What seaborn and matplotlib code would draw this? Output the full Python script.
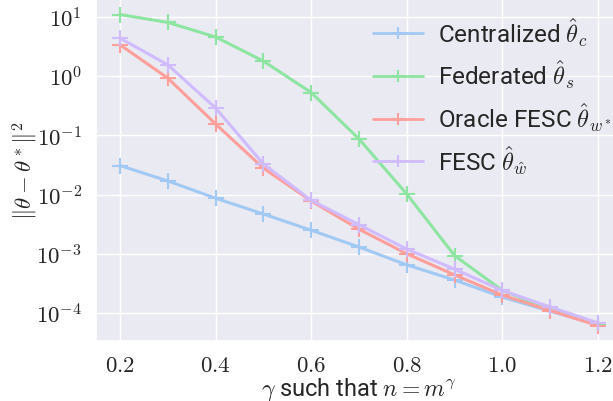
import numpy as np
import pandas as pd
import seaborn as sns
import matplotlib
matplotlib.use("Agg")
import matplotlib.pyplot as plt
from matplotlib.ticker import FuncFormatter, LogLocator, NullLocator

gammas = [0.2, 0.3, 0.4, 0.5, 0.6, 0.7, 0.8, 0.9, 1.0, 1.1, 1.2]
centralized = [0.031, 0.017, 0.0087, 0.0047, 0.0025, 0.0013, 0.00065, 0.00036, 0.000185, 0.000107, 6.3e-5]
federated = [11.0, 8.1, 4.6, 1.8, 0.53, 0.087, 0.0102, 0.00093, 0.00024, 0.000115, 6.5e-5]
oracle = [3.4, 0.93, 0.156, 0.028, 0.0078, 0.0026, 0.001, 0.00044, 0.0002, 0.00011, 6.1e-5]
fesc = [4.4, 1.56, 0.29, 0.033, 0.0080, 0.0031, 0.0012, 0.00055, 0.00024, 0.000126, 6.8e-5]
labels = [r"Centralized $\hat{\theta}_c$", r"Federated $\hat{\theta}_s$",
          r"Oracle FESC $\hat{\theta}_{w^*}$", r"FESC $\hat{\theta}_{\hat{w}}$"]
xticks = [0.2, 0.4, 0.6, 0.8, 1.0, 1.2]

sns.set_theme(style="darkgrid")
plt.rcParams["font.family"] = ["Roboto", "DejaVu Sans"]
plt.rcParams["mathtext.fontset"] = "cm"

pal = sns.color_palette("pastel")
colors = [pal[0], pal[2], pal[3], pal[4]]

fig = plt.figure(figsize=(6.13, 4.02), dpi=100)
ax = fig.add_axes([96/613, 60/402, 526/613, 342/402])

series = [centralized, federated, oracle, fesc]
for vals, lab, col in zip(series, labels, colors):
    df = pd.DataFrame({"gamma": gammas, "err": vals})
    sns.lineplot(data=df, x="gamma", y="err", ax=ax, color=col, label=lab,
                 marker="+", markersize=11, markeredgewidth=1.5, linewidth=2.2,
                 markeredgecolor=col)

ax.set_yscale("log")
ax.set_xlim(0.15, 1.25)
ax.set_ylim(10**-4.473, 10**1.304)
ax.set_xticks(xticks)
ax.xaxis.set_major_formatter(FuncFormatter(lambda v, p: r"$%.1f$" % v))
ax.yaxis.set_major_locator(LogLocator(base=10, numticks=12))
ax.yaxis.set_minor_locator(NullLocator())
ax.yaxis.set_major_formatter(FuncFormatter(lambda v, p: r"$10^{%d}$" % round(np.log10(v))))
ax.tick_params(axis="x", labelsize=16.5, pad=3)
ax.tick_params(axis="y", labelsize=16.5, pad=4)
ax.set_xlabel(r"$\gamma$ such that $n = m^\gamma$", fontsize=17, labelpad=-1)
ax.set_ylabel(r"$\|\theta - \theta^*\|^2$", fontsize=16.5, labelpad=-3)

fs = 17.5
leg = ax.legend(loc="upper left", frameon=False, fontsize=fs,
                bbox_to_anchor=(261/526, 1.0), handlelength=2.05, borderaxespad=0.25,
                borderpad=0.4, labelspacing=0.4, handletextpad=0.65)
for h in leg.legend_handles:
    h.set_markersize(8)
    h.set_linewidth(2)
fig.savefig("out.png", dpi=100)
